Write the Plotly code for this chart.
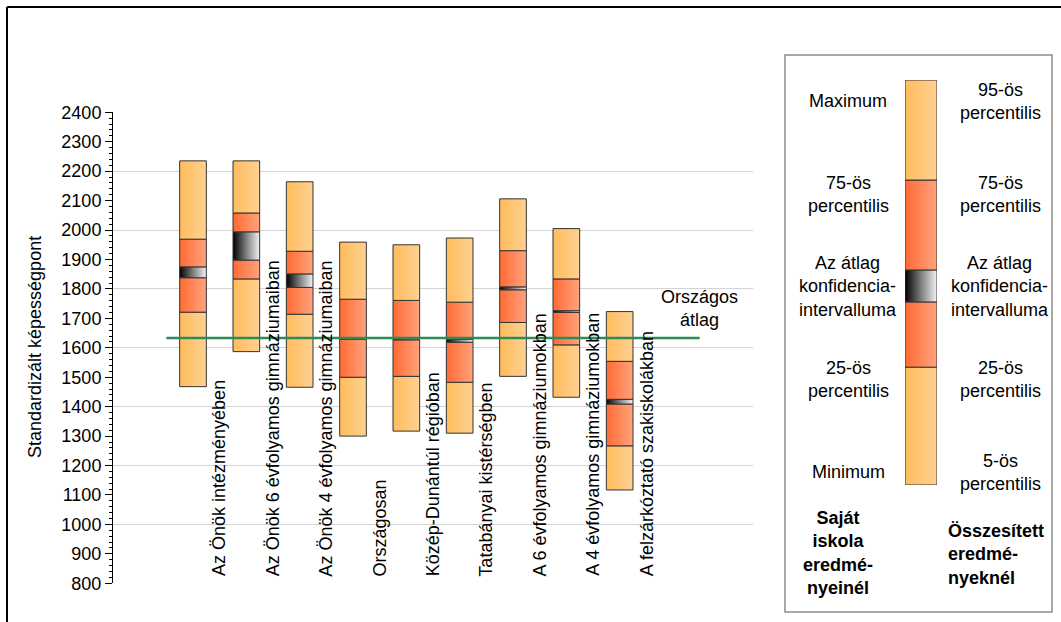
import plotly.graph_objects as go

W, H = 1061, 622

# ---------------- data ----------------
categories = [
    "Az Önök intézményében",
    "Az Önök 6 évfolyamos gimnáziumaiban",
    "Az Önök 4 évfolyamos gimnáziumaiban",
    "Országosan",
    "Közép-Dunántúl régióban",
    "Tatabányai kistérségben",
    "A 6 évfolyamos gimnáziumokban",
    "A 4 évfolyamos gimnáziumokban",
    "A felzárkóztató szakiskolákban",
]
p_low = [1468, 1587, 1466, 1300, 1317, 1310, 1503, 1432, 1117]
p25 = [1721, 1834, 1714, 1500, 1503, 1483, 1686, 1610, 1267]
ci_low = [1838, 1898, 1805, 1629, 1627, 1619, 1797, 1720, 1409]
ci_high = [1875, 1994, 1851, 1633, 1631, 1629, 1807, 1726, 1425]
p75 = [1969, 2058, 1928, 1765, 1761, 1755, 1930, 1834, 1554]
p_high = [2235, 2235, 2164, 1959, 1950, 1973, 2106, 2005, 1723]
national_avg = 1633

y_ticks_major = 100
y_grid_step = 200
y_range = [800, 2400]

LEGEND_LEVELS = [0, 29.1, 45.2, 53.1, 75.3, 100]

# ---------------- styles ----------------
FONT = "Liberation Sans, Arial, sans-serif"
LIGHT = [[0, "#FFBC5C"], [1, "#FFD193"]]
RED = [[0, "#FF6A33"], [1, "#FFA37E"]]
CI = [[0, "#000000"], [0.55, "#8a8a8a"], [1, "#f2f2f2"]]
SEG_STYLES = [LIGHT, RED, CI, RED, LIGHT]
OUTLINE = "#333333"
HALF_W = 0.25


def px(x):
    return x / W


def py(y):
    return 1 - y / H


fig = go.Figure()


def add_segment(xc, y0, y1, scale, xaxis="x", yaxis="y"):
    fig.add_trace(go.Scatter(
        x=[xc - HALF_W, xc + HALF_W, xc + HALF_W, xc - HALF_W, xc - HALF_W],
        y=[y0, y0, y1, y1, y0],
        mode="lines", fill="toself",
        fillgradient=dict(type="horizontal", colorscale=scale),
        line=dict(color=OUTLINE, width=1),
        hoverinfo="skip", showlegend=False,
        xaxis=xaxis, yaxis=yaxis,
    ))


for i, cat in enumerate(categories):
    xc = i + 1
    levels = [p_low[i], p25[i], ci_low[i], ci_high[i], p75[i], p_high[i]]
    for k in range(5):
        add_segment(xc, levels[k], levels[k + 1], SEG_STYLES[k])

# national average line
fig.add_trace(go.Scatter(
    x=[0.5, len(categories) + 1.5], y=[national_avg, national_avg],
    mode="lines", line=dict(color="#2E8B57", width=2.5),
    hoverinfo="skip", showlegend=False,
))

# invisible trace on labelled axis
fig.add_trace(go.Scatter(x=[0], y=[y_range[0]], yaxis="y2", mode="markers",
                         marker=dict(opacity=0), hoverinfo="skip", showlegend=False))

# legend key bar
for k in range(5):
    add_segment(0.5, LEGEND_LEVELS[k], LEGEND_LEVELS[k + 1], SEG_STYLES[k],
                xaxis="x3", yaxis="y3")

# ---------------- layout ----------------
annotations = []
for i, cat in enumerate(categories):
    annotations.append(dict(
        x=i + 1.5, y=y_range[0], xref="x", yref="y", text=cat, textangle=-90,
        showarrow=False, yanchor="bottom", xanchor="center", yshift=5,
        font=dict(family=FONT, size=18, color="black"),
    ))

annotations.append(dict(
    x=len(categories) + 1.5, y=1735, xref="x", yref="y", text="Országos<br>átlag",
    showarrow=False, xanchor="center", yanchor="middle",
    font=dict(family=FONT, size=18, color="black"),
))

annotations.append(dict(
    x=px(35), y=py(347), xref="paper", yref="paper",
    text="Standardizált képességpont", textangle=-90, showarrow=False,
    xanchor="center", yanchor="middle",
    font=dict(family=FONT, size=18, color="black"),
))

left_items = [("Maximum", 101), ("75-ös<br>percentilis", 194),
              ("Az átlag<br>konfidencia-<br>intervalluma", 286),
              ("25-ös<br>percentilis", 379), ("Minimum", 472)]
right_items = [("95-ös<br>percentilis", 101), ("75-ös<br>percentilis", 194),
               ("Az átlag<br>konfidencia-<br>intervalluma", 286),
               ("25-ös<br>percentilis", 379), ("5-ös<br>percentilis", 472)]
LEG_FONT = dict(family=FONT, size=18, color="black")
for txt, yy in left_items:
    annotations.append(dict(x=px(848), y=py(yy), xref="paper", yref="paper",
                            text=txt, showarrow=False, align="center",
                            xanchor="center", yanchor="middle", font=LEG_FONT))
for txt, yy in right_items:
    annotations.append(dict(x=px(1000), y=py(yy), xref="paper", yref="paper",
                            text=txt, showarrow=False, align="center",
                            xanchor="center", yanchor="middle", font=LEG_FONT))
annotations.append(dict(x=px(838), y=py(553), xref="paper", yref="paper",
                        text="<b>Saját<br>iskola<br>eredmé-<br>nyeinél</b>",
                        showarrow=False, align="center",
                        xanchor="center", yanchor="middle", font=LEG_FONT))
annotations.append(dict(x=px(946), y=py(554), xref="paper", yref="paper",
                        xanchor="left", yanchor="middle",
                        text="<b>Összesített<br>eredmé-<br>nyeknél</b>",
                        showarrow=False, align="left", font=LEG_FONT))

shapes = [
    dict(type="line", xref="paper", yref="paper", x0=px(7), x1=1, y0=py(7), y1=py(7),
         line=dict(color="black", width=2)),
    dict(type="line", xref="paper", yref="paper", x0=px(7), x1=px(7), y0=py(7), y1=0,
         line=dict(color="black", width=2)),
    dict(type="rect", xref="paper", yref="paper", x0=px(785), x1=px(1052),
         y0=py(612), y1=py(55), line=dict(color="#8c8c8c", width=1.5)),
]

fig.update_layout(
    width=W, height=H, autosize=False,
    margin=dict(l=0, r=0, t=0, b=0, pad=0),
    paper_bgcolor="white", plot_bgcolor="rgba(0,0,0,0)",
    showlegend=False,
    xaxis=dict(domain=[px(113), px(753)], range=[-0.5, 11.5],
               showticklabels=False, showgrid=False, zeroline=False,
               showline=False, ticks=""),
    yaxis=dict(domain=[py(583.3), py(112.3)], range=y_range,
               tick0=y_range[0], dtick=y_grid_step, showgrid=True,
               gridcolor="#d4d4d4", gridwidth=1, showticklabels=False,
               ticks="", zeroline=False, showline=False),
    yaxis2=dict(overlaying="y", anchor="x", side="left", range=y_range,
                tick0=y_range[0], dtick=y_ticks_major, showgrid=False,
                zeroline=False, showline=True, linecolor="black", linewidth=1,
                ticks="outside", ticklen=7, tickcolor="black", tickwidth=1,
                automargin=False,
                tickfont=dict(family=FONT, size=18, color="black"),
                minor=dict(dtick=20, ticks="outside", ticklen=3,
                           tickcolor="black", showgrid=False)),
    xaxis3=dict(domain=[px(905), px(937)], range=[0.5 - HALF_W, 0.5 + HALF_W],
                anchor="y3", visible=False),
    yaxis3=dict(domain=[py(485), py(80)], range=[0, 100], anchor="x3",
                visible=False),
    annotations=annotations,
    shapes=shapes,
)

fig.write_html(
    "out.html",
    config={"responsive": False, "displayModeBar": False},
    post_script="document.body.style.margin='0';document.body.style.padding='0';",
)
